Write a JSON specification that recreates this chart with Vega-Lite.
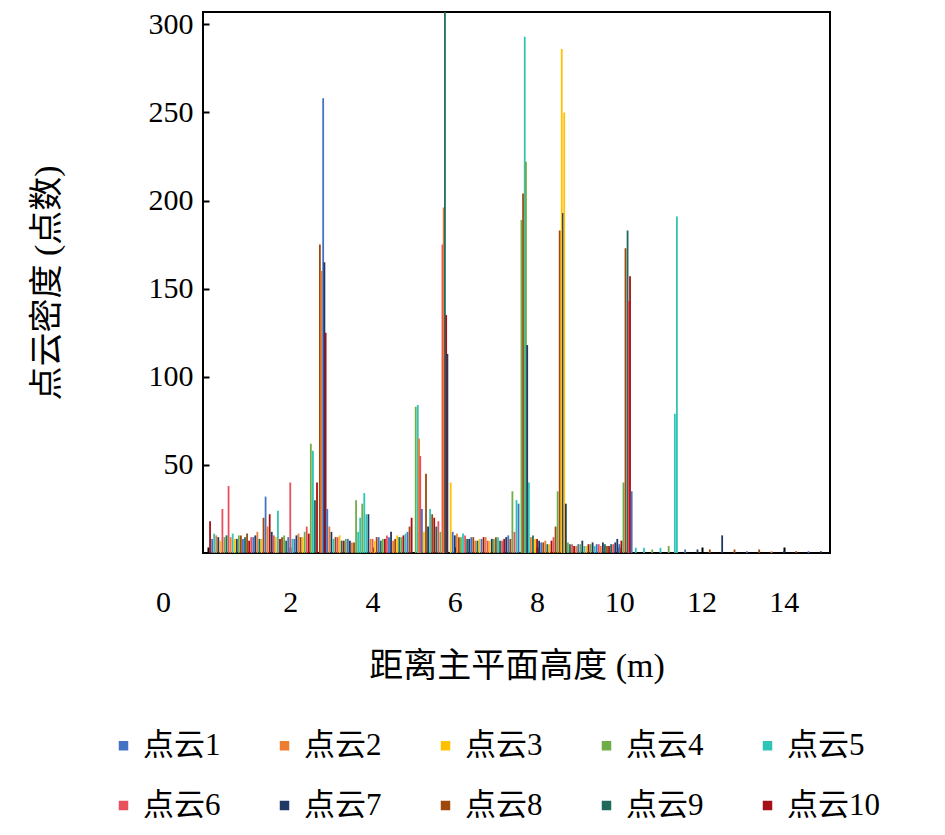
{
  "$schema": "https://vega.github.io/schema/vega-lite/v6.json",
  "width": 627,
  "height": 541,
  "autosize": "none",
  "padding": {"left": 203, "top": 12, "right": 115, "bottom": 282},
  "background": "white",
  "config": {
    "font": "Liberation Serif, Noto Sans CJK SC",
    "view": {"stroke": "black", "strokeWidth": 2}
  },
  "data": {"values": [
    {"x":0.1,"s":"点云1","y":8},{"x":0.2,"s":"点云2","y":10},{"x":0.3,"s":"点云3","y":7},{"x":0.4,"s":"点云4","y":9},{"x":0.5,"s":"点云6","y":38},
    {"x":0.6,"s":"点云5","y":11},{"x":0.7,"s":"点云7","y":8},{"x":0.8,"s":"点云8","y":10},{"x":0.9,"s":"点云9","y":9},{"x":1.0,"s":"点云10","y":7},
    {"x":1.1,"s":"点云1","y":9},{"x":1.2,"s":"点云2","y":12},{"x":1.3,"s":"点云3","y":8},{"x":1.4,"s":"点云1","y":32},{"x":1.5,"s":"点云10","y":22},
    {"x":1.6,"s":"点云6","y":10},{"x":1.7,"s":"点云5","y":24},{"x":1.8,"s":"点云8","y":9},{"x":1.9,"s":"点云9","y":7},{"x":2.0,"s":"点云6","y":40},
    {"x":2.1,"s":"点云1","y":8},{"x":2.2,"s":"点云2","y":11},{"x":2.3,"s":"点云3","y":9},{"x":2.4,"s":"点云6","y":15},
    {"x":2.5,"s":"点云4","y":62},{"x":2.55,"s":"点云5","y":58},{"x":2.6,"s":"点云9","y":30},{"x":2.65,"s":"点云10","y":40},
    {"x":2.72,"s":"点云8","y":175},{"x":2.76,"s":"点云2","y":160},{"x":2.8,"s":"点云1","y":258},{"x":2.83,"s":"点云7","y":165},{"x":2.86,"s":"点云10","y":125},{"x":2.9,"s":"点云1","y":25},
    {"x":3.0,"s":"点云7","y":12},{"x":3.1,"s":"点云8","y":9},{"x":3.2,"s":"点云3","y":10},{"x":3.3,"s":"点云10","y":7},{"x":3.4,"s":"点云1","y":8},
    {"x":3.5,"s":"点云2","y":6},{"x":3.6,"s":"点云4","y":30},{"x":3.7,"s":"点云5","y":20},{"x":3.8,"s":"点云5","y":34},{"x":3.9,"s":"点云7","y":22},
    {"x":4.0,"s":"点云6","y":8},{"x":4.1,"s":"点云8","y":9},{"x":4.2,"s":"点云9","y":7},{"x":4.3,"s":"点云10","y":8},{"x":4.4,"s":"点云1","y":9},
    {"x":4.5,"s":"点云2","y":7},{"x":4.6,"s":"点云3","y":10},{"x":4.7,"s":"点云4","y":9},{"x":4.8,"s":"点云5","y":11},{"x":4.9,"s":"点云8","y":15},
    {"x":5.05,"s":"点云4","y":83},{"x":5.1,"s":"点云5","y":84},{"x":5.13,"s":"点云2","y":65},{"x":5.16,"s":"点云6","y":55},{"x":5.3,"s":"点云8","y":45},
    {"x":5.4,"s":"点云5","y":25},{"x":5.5,"s":"点云10","y":20},{"x":5.6,"s":"点云6","y":18},
    {"x":5.7,"s":"点云6","y":175},{"x":5.73,"s":"点云2","y":196},{"x":5.76,"s":"点云9","y":307},{"x":5.79,"s":"点云10","y":135},{"x":5.82,"s":"点云7","y":113},{"x":5.9,"s":"点云3","y":40},
    {"x":6.0,"s":"点云7","y":10},{"x":6.1,"s":"点云8","y":9},{"x":6.2,"s":"点云5","y":11},{"x":6.3,"s":"点云9","y":8},{"x":6.4,"s":"点云1","y":9},
    {"x":6.5,"s":"点云2","y":7},{"x":6.6,"s":"点云3","y":8},{"x":6.7,"s":"点云10","y":9},{"x":6.8,"s":"点云6","y":7},{"x":6.9,"s":"点云7","y":8},
    {"x":7.0,"s":"点云8","y":9},{"x":7.1,"s":"点云9","y":7},{"x":7.2,"s":"点云10","y":8},{"x":7.3,"s":"点云1","y":10},{"x":7.4,"s":"点云4","y":35},
    {"x":7.5,"s":"点云5","y":30},{"x":7.55,"s":"点云1","y":28},{"x":7.62,"s":"点云4","y":189},{"x":7.66,"s":"点云8","y":204},{"x":7.7,"s":"点云5","y":293},
    {"x":7.73,"s":"点云4","y":222},{"x":7.76,"s":"点云7","y":118},{"x":7.8,"s":"点云5","y":40},{"x":7.9,"s":"点云9","y":10},
    {"x":8.0,"s":"点云10","y":8},{"x":8.1,"s":"点云1","y":6},{"x":8.2,"s":"点云2","y":7},{"x":8.3,"s":"点云3","y":5},{"x":8.4,"s":"点云6","y":9},
    {"x":8.5,"s":"点云4","y":35},{"x":8.55,"s":"点云8","y":183},{"x":8.6,"s":"点云3","y":286},{"x":8.63,"s":"点云7","y":193},{"x":8.66,"s":"点云3","y":250},{"x":8.7,"s":"点云7","y":28},
    {"x":8.8,"s":"点云9","y":5},{"x":8.9,"s":"点云10","y":4},{"x":9.0,"s":"点云1","y":5},{"x":9.1,"s":"点云7","y":7},{"x":9.2,"s":"点云3","y":4},
    {"x":9.3,"s":"点云4","y":5},{"x":9.4,"s":"点云5","y":4},{"x":9.5,"s":"点云6","y":5},{"x":9.6,"s":"点云7","y":6},{"x":9.7,"s":"点云8","y":4},
    {"x":9.8,"s":"点云9","y":5},{"x":9.9,"s":"点云7","y":6},{"x":10.0,"s":"点云1","y":5},{"x":10.1,"s":"点云4","y":40},
    {"x":10.15,"s":"点云8","y":173},{"x":10.2,"s":"点云9","y":183},{"x":10.23,"s":"点云6","y":143},{"x":10.26,"s":"点云10","y":157},{"x":10.3,"s":"点云1","y":35},
    {"x":10.4,"s":"点云5","y":3},{"x":10.6,"s":"点云5","y":3},{"x":10.8,"s":"点云4","y":2},{"x":11.0,"s":"点云5","y":3},{"x":11.2,"s":"点云4","y":4},
    {"x":11.35,"s":"点云5","y":79},{"x":11.4,"s":"点云5","y":191},{"x":11.6,"s":"点云1","y":2},{"x":11.9,"s":"点云7","y":2},{"x":12.2,"s":"点云8","y":2},
    {"x":12.5,"s":"点云7","y":10},{"x":12.8,"s":"点云8","y":2},{"x":13.1,"s":"点云1","y":1},{"x":13.4,"s":"点云8","y":2},{"x":13.7,"s":"点云2","y":1},
    {"x":14.0,"s":"点云7","y":1},{"x":14.3,"s":"点云8","y":1},{"x":14.6,"s":"点云1","y":1},{"x":14.9,"s":"点云7","y":1},
    {"x":0.05,"s":"点云10","y":18},{"x":0.15,"s":"点云5","y":11},{"x":0.25,"s":"点云7","y":9},{"x":0.35,"s":"点云6","y":25},{"x":0.45,"s":"点云9","y":10},
    {"x":0.55,"s":"点云2","y":9},{"x":0.65,"s":"点云3","y":8},{"x":0.75,"s":"点云4","y":10},{"x":0.85,"s":"点云1","y":8},{"x":0.95,"s":"点云8","y":11},
    {"x":1.05,"s":"点云6","y":9},{"x":1.15,"s":"点云7","y":10},{"x":1.25,"s":"点云9","y":8},{"x":1.35,"s":"点云8","y":20},{"x":1.45,"s":"点云2","y":15},
    {"x":1.55,"s":"点云7","y":12},{"x":1.65,"s":"点云3","y":9},{"x":1.75,"s":"点云10","y":8},{"x":1.85,"s":"点云4","y":10},{"x":1.95,"s":"点云1","y":9},
    {"x":2.05,"s":"点云5","y":8},{"x":2.15,"s":"点云7","y":10},{"x":2.25,"s":"点云8","y":9},{"x":2.35,"s":"点云4","y":12},{"x":2.45,"s":"点云10","y":11},
    {"x":2.95,"s":"点云2","y":15},{"x":3.05,"s":"点云5","y":8},{"x":3.15,"s":"点云6","y":9},{"x":3.25,"s":"点云9","y":7},{"x":3.35,"s":"点云4","y":8},
    {"x":3.45,"s":"点云7","y":7},{"x":3.55,"s":"点云8","y":6},{"x":3.65,"s":"点云5","y":12},{"x":3.75,"s":"点云4","y":28},{"x":3.85,"s":"点云5","y":22},
    {"x":3.95,"s":"点云2","y":8},{"x":4.05,"s":"点云3","y":7},{"x":4.15,"s":"点云1","y":9},{"x":4.25,"s":"点云4","y":8},{"x":4.35,"s":"点云6","y":10},
    {"x":4.45,"s":"点云7","y":12},{"x":4.55,"s":"点云8","y":8},{"x":4.65,"s":"点云9","y":9},{"x":4.75,"s":"点云10","y":10},{"x":4.85,"s":"点云1","y":12},
    {"x":4.95,"s":"点云10","y":20},{"x":5.2,"s":"点云1","y":25},{"x":5.25,"s":"点云3","y":12},{"x":5.35,"s":"点云7","y":15},{"x":5.45,"s":"点云8","y":22},
    {"x":5.55,"s":"点云9","y":15},{"x":5.65,"s":"点云4","y":12},{"x":5.95,"s":"点云1","y":12},{"x":6.05,"s":"点云2","y":11},{"x":6.15,"s":"点云4","y":9},
    {"x":6.25,"s":"点云6","y":10},{"x":6.35,"s":"点云7","y":8},{"x":6.45,"s":"点云8","y":9},{"x":6.55,"s":"点云9","y":7},{"x":6.65,"s":"点云1","y":8},
    {"x":6.75,"s":"点云2","y":9},{"x":6.85,"s":"点云3","y":7},{"x":6.95,"s":"点云4","y":8},{"x":7.05,"s":"点云5","y":9},{"x":7.15,"s":"点云6","y":7},
    {"x":7.25,"s":"点云7","y":9},{"x":7.35,"s":"点云8","y":8},{"x":7.45,"s":"点云6","y":12},{"x":7.85,"s":"点云2","y":9},{"x":7.95,"s":"点云3","y":8},
    {"x":8.05,"s":"点云7","y":7},{"x":8.15,"s":"点云8","y":6},{"x":8.25,"s":"点云9","y":5},{"x":8.35,"s":"点云10","y":7},{"x":8.45,"s":"点云8","y":15},
    {"x":8.75,"s":"点云4","y":6},{"x":8.85,"s":"点云6","y":5},{"x":8.95,"s":"点云2","y":4},{"x":9.05,"s":"点云4","y":5},{"x":9.15,"s":"点云5","y":4},
    {"x":9.25,"s":"点云10","y":5},{"x":9.35,"s":"点云7","y":6},{"x":9.45,"s":"点云1","y":5},{"x":9.55,"s":"点云2","y":4},{"x":9.65,"s":"点云9","y":5},
    {"x":9.75,"s":"点云10","y":4},{"x":9.85,"s":"点云6","y":5},{"x":9.95,"s":"点云7","y":8},{"x":10.05,"s":"点云10","y":7}
  ]},
  "mark": {"type": "bar", "size": 1.8},
  "encoding": {
    "x": {
      "field": "x", "type": "quantitative",
      "scale": {"domain": [0, 15], "nice": false},
      "title": "距离主平面高度 (m)",
      "axis": {
        "values": [0, 2, 4, 6, 8, 10, 12, 14],
        "grid": false, "domain": false,
        "tickSize": -6, "tickWidth": 2, "tickColor": "black",
        "labelFontSize": 30, "labelPadding": 40, "labelColor": "black",
        "labelOffset": {"condition": {"test": "datum.value == 0", "value": -45}, "value": 0},
        "titleFontSize": 34, "titleFontWeight": "normal", "titlePadding": 32, "titleColor": "black"
      }
    },
    "y": {
      "field": "y", "type": "quantitative",
      "scale": {"domain": [0, 307], "nice": false},
      "title": "点云密度 (点数)",
      "axis": {
        "values": [50, 100, 150, 200, 250, 300],
        "grid": false, "domain": false,
        "tickSize": -6, "tickWidth": 2, "tickColor": "black",
        "labelFontSize": 30, "labelPadding": 16, "labelColor": "black",
        "titleFontSize": 34, "titleFontWeight": "normal", "titlePadding": 84, "titleColor": "black"
      }
    },
    "color": {
      "field": "s", "type": "nominal",
      "scale": {
        "domain": ["点云1","点云2","点云3","点云4","点云5","点云6","点云7","点云8","点云9","点云10"],
        "range": ["#4472C4","#ED7D31","#FFC000","#70AD47","#2EC4B6","#E8505B","#203864","#9E480E","#1E6B5C","#A50F15"]
      },
      "legend": {
        "title": null, "orient": "none", "legendX": -95, "legendY": 718,
        "direction": "horizontal", "columns": 5, "columnPadding": 48, "rowPadding": 28,
        "symbolType": "square", "symbolSize": 90, "symbolStrokeWidth": 0,
        "labelFontSize": 31, "labelColor": "black", "labelLimit": 200
      }
    }
  }
}
